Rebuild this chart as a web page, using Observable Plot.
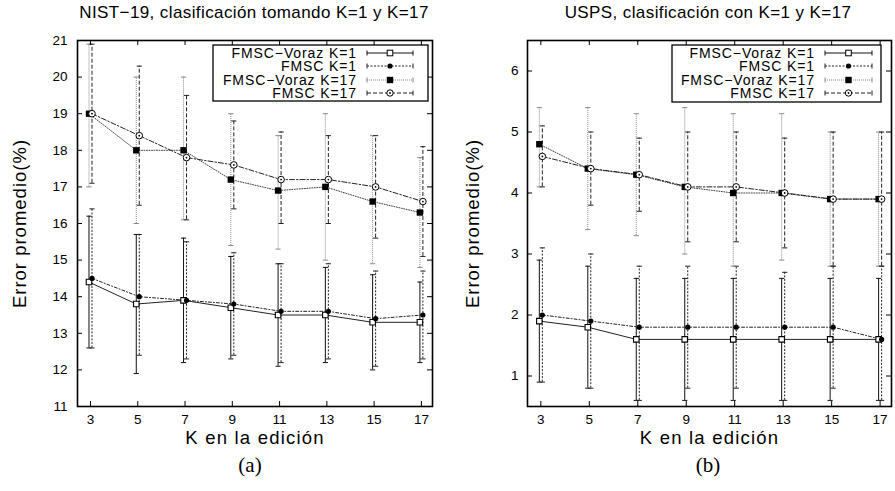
<!DOCTYPE html>
<html><head><meta charset="utf-8">
<script src="https://cdn.jsdelivr.net/npm/d3@7"></script>
<script src="https://cdn.jsdelivr.net/npm/@observablehq/plot@0.6"></script>
<style>
html,body{margin:0;padding:0;background:#fff;}
body{width:895px;height:491px;position:relative;overflow:hidden;font-family:"Liberation Sans",Arial,sans-serif;}
.panel{position:absolute;top:0;}
.title{position:absolute;top:3px;font-size:17px;letter-spacing:0.4px;white-space:nowrap;transform:translateX(-50%);color:#000;}
.cap{position:absolute;top:453px;font-family:"Liberation Serif","Times New Roman",serif;font-size:21px;transform:translateX(-50%);color:#000;}
.legend{position:absolute;top:0;left:0;}
</style></head><body>
<script>
// ---------- data ----------
const ks = [3, 5, 7, 9, 11, 13, 15, 17];
const seriesNames = ["FMSC\u2212Voraz K=1", "FMSC K=1", "FMSC\u2212Voraz K=17", "FMSC K=17"];
const xLabel = "K en la edici\u00f3n";
const yLabel = "Error promedio(%)";

// (a) NIST-19
const nistVorazK1   = [14.4, 13.8, 13.9, 13.7, 13.5, 13.5, 13.3, 13.3];
const nistVorazK1Lo = [12.6, 11.9, 12.2, 12.3, 12.1, 12.2, 12.0, 12.2];
const nistVorazK1Hi = [16.2, 15.7, 15.6, 15.1, 14.9, 14.8, 14.6, 14.4];
const nistFmscK1    = [14.5, 14.0, 13.9, 13.8, 13.6, 13.6, 13.4, 13.5];
const nistFmscK1Lo  = [12.6, 12.4, 12.3, 12.4, 12.2, 12.3, 12.1, 12.3];
const nistFmscK1Hi  = [16.4, 15.7, 15.5, 15.2, 14.9, 14.9, 14.7, 14.7];
const nistVorazK17   = [19.0, 18.0, 18.0, 17.2, 16.9, 17.0, 16.6, 16.3];
const nistVorazK17Lo = [17.0, 16.0, 16.1, 15.4, 15.3, 15.0, 14.9, 14.8];
const nistVorazK17Hi = [20.9, 20.0, 20.0, 19.0, 18.4, 19.0, 18.4, 17.8];
const nistFmscK17    = [19.0, 18.4, 17.8, 17.6, 17.2, 17.2, 17.0, 16.6];
const nistFmscK17Lo  = [17.1, 16.5, 16.1, 16.4, 16.0, 16.0, 15.6, 15.1];
const nistFmscK17Hi  = [20.9, 20.3, 19.5, 18.8, 18.5, 18.4, 18.4, 18.1];

// (b) USPS
const uspsVorazK1   = [1.9, 1.8, 1.6, 1.6, 1.6, 1.6, 1.6, 1.6];
const uspsVorazK1Lo = [0.9, 0.8, 0.6, 0.6, 0.6, 0.6, 0.6, 0.6];
const uspsVorazK1Hi = [2.9, 2.8, 2.6, 2.6, 2.6, 2.6, 2.6, 2.6];
const uspsFmscK1    = [2.0, 1.9, 1.8, 1.8, 1.8, 1.8, 1.8, 1.6];
const uspsFmscK1Lo  = [0.9, 0.8, 0.6, 0.8, 0.8, 0.6, 0.8, 0.6];
const uspsFmscK1Hi  = [3.1, 3.0, 2.8, 2.8, 2.8, 2.7, 2.8, 2.8];
const uspsVorazK17   = [4.8, 4.4, 4.3, 4.1, 4.0, 4.0, 3.9, 3.9];
const uspsVorazK17Lo = [4.1, 3.4, 3.3, 3.0, 2.8, 2.9, 2.8, 2.8];
const uspsVorazK17Hi = [5.4, 5.4, 5.3, 5.4, 5.3, 5.3, 5.0, 5.0];
const uspsFmscK17    = [4.6, 4.4, 4.3, 4.1, 4.1, 4.0, 3.9, 3.9];
const uspsFmscK17Lo  = [4.1, 3.8, 3.7, 3.2, 3.2, 3.1, 2.8, 2.8];
const uspsFmscK17Hi  = [5.1, 5.0, 4.9, 5.0, 5.0, 4.9, 5.0, 5.0];

const nistYTicks = [11, 12, 13, 14, 15, 16, 17, 18, 19, 20, 21];
const uspsYTicks = [1, 2, 3, 4, 5, 6];

// ---------- styles ----------
const styles = [
  {line: "#222", dash: null,        bar: "#111", barDash: null,      dx: -1.5, marker: "openSquare"},
  {line: "#222", dash: "3,2,1,2",   bar: "#222", barDash: "2,1.5",   dx: 1.5,  marker: "dot"},
  {line: "#444", dash: "1,1.5",     bar: "#888", barDash: "1,1",     dx: -1.5, marker: "filledSquare"},
  {line: "#222", dash: "5,2,1.5,2", bar: "#222", barDash: "4,2",     dx: 1.5,  marker: "openCircle"}
];
const capSymbol = {draw(ctx, size) { const r = Math.sqrt(size / Math.PI); ctx.moveTo(-r, 0); ctx.lineTo(r, 0); }};

function rowsOf(vals, lo, hi, s) {
  return ks.map((k, i) => ({k, v: vals[i], lo: lo[i], hi: hi[i], s}));
}

function markerMarks(rows, st) {
  const o = {x: "k", y: "v", dx: st.dx};
  switch (st.marker) {
    case "openSquare": return [Plot.dot(rows, {...o, symbol: "square", r: 3.1, fill: "white", stroke: "black", strokeWidth: 1.1})];
    case "dot": return [Plot.dot(rows, {...o, symbol: "circle", r: 2.6, fill: "black", stroke: "none"})];
    case "filledSquare": return [Plot.dot(rows, {...o, symbol: "square", r: 3.6, fill: "black", stroke: "none"})];
    case "openCircle": return [
      Plot.dot(rows, {...o, symbol: "circle", r: 3.3, fill: "white", stroke: "black", strokeWidth: 1}),
      Plot.dot(rows, {...o, symbol: "circle", r: 0.9, fill: "black", stroke: "none"})
    ];
  }
}

function panel({series, yDomain, yTicks, width, height, marginLeft, marginRight, marginTop, marginBottom, yLabelDx, yTickPad}) {
  const fw = width - marginLeft - marginRight;
  const fh = height - marginTop - marginBottom;
  const marks = [];
  series.forEach((rows, s) => {
    const st = styles[s];
    marks.push(Plot.ruleX(rows, {x: "k", y1: "lo", y2: "hi", dx: st.dx, stroke: st.bar, strokeWidth: 1, strokeDasharray: st.barDash}));
    marks.push(Plot.dot(rows, {x: "k", y: "lo", dx: st.dx, symbol: capSymbol, r: 2.6, stroke: st.bar, fill: "none", strokeWidth: 1}));
    marks.push(Plot.dot(rows, {x: "k", y: "hi", dx: st.dx, symbol: capSymbol, r: 2.6, stroke: st.bar, fill: "none", strokeWidth: 1}));
  });
  series.forEach((rows, s) => {
    const st = styles[s];
    marks.push(Plot.line(rows, {x: "k", y: "v", dx: st.dx, stroke: st.line, strokeWidth: 1, strokeDasharray: st.dash}));
  });
  series.forEach((rows, s) => marks.push(...markerMarks(rows, styles[s])));
  // inward ticks on all four sides
  marks.push(Plot.ruleX(ks, {x: d => d, insetTop: fh - 5, stroke: "black", strokeWidth: 1}));
  marks.push(Plot.ruleX(ks, {x: d => d, insetBottom: fh - 5, stroke: "black", strokeWidth: 1}));
  marks.push(Plot.ruleY(yTicks, {y: d => d, insetRight: fw - 5, stroke: "black", strokeWidth: 1}));
  marks.push(Plot.ruleY(yTicks, {y: d => d, insetLeft: fw - 5, stroke: "black", strokeWidth: 1}));
  marks.push(Plot.frame({stroke: "black", strokeWidth: 1.6}));
  // axes
  marks.push(Plot.axisX(ks, {anchor: "bottom", tickSize: 0, tickPadding: 8, fontSize: 14, label: null, tickFormat: d3.format("d")}));
  marks.push(Plot.axisY(yTicks, {anchor: "left", tickSize: 0, tickPadding: yTickPad, fontSize: 14, label: null, tickFormat: d3.format("d")}));
  marks.push(Plot.text([xLabel], {frameAnchor: "bottom", lineAnchor: "middle", textAnchor: "middle", dy: 32, fontSize: 18, fill: "black"}));
  marks.push(Plot.text([yLabel], {frameAnchor: "left", lineAnchor: "middle", textAnchor: "middle", rotate: -90, dx: yLabelDx, fontSize: 18, fill: "black"}));
  const svg = Plot.plot({
    width, height, marginLeft, marginRight, marginTop, marginBottom,
    style: {fontFamily: "Liberation Sans, Arial, sans-serif", color: "black", background: "white", overflow: "visible"},
    x: {domain: [2.45, 17.47]},
    y: {domain: yDomain},
    marks
  });
  const tickLabels = new Set(ks.map(String).concat(yTicks.map(String)));
  d3.select(svg).selectAll("text").each(function() {
    const t = this.textContent;
    if (t === xLabel) { this.style.fontSize = "18.5px"; this.setAttribute("letter-spacing", "1.2px"); }
    else if (t === yLabel) { this.style.fontSize = "18.5px"; this.setAttribute("letter-spacing", "1px"); }
    else if (tickLabels.has(t)) { this.style.fontSize = "13.5px"; }
  });
  return svg;
}

function addLegend(host, box, textX, sampleX1, sampleX2, rowYs) {
  const svg = d3.select(host).append("svg").attr("class", "legend")
    .attr("width", 895).attr("height", 491).style("pointer-events", "none");
  svg.append("rect").attr("x", box[0]).attr("y", box[1]).attr("width", box[2] - box[0]).attr("height", box[3] - box[1])
    .attr("fill", "white").attr("stroke", "black").attr("stroke-width", 1.3);
  seriesNames.forEach((name, s) => {
    const st = styles[s], y = rowYs[s], mid = (sampleX1 + sampleX2) / 2;
    svg.append("text").attr("x", textX).attr("y", y).attr("dy", "0.36em").attr("text-anchor", "end")
      .attr("font-family", "Liberation Sans, Arial, sans-serif").attr("font-size", 14).attr("letter-spacing", "0.9px")
      .text(name);
    svg.append("line").attr("x1", sampleX1).attr("x2", sampleX2).attr("y1", y).attr("y2", y)
      .attr("stroke", st.bar).attr("stroke-dasharray", st.barDash).attr("stroke-width", 1);
    [sampleX1, sampleX2].forEach(x => svg.append("line").attr("x1", x).attr("x2", x).attr("y1", y - 2.5).attr("y2", y + 2.5).attr("stroke", st.bar));
    if (st.marker === "openSquare") svg.append("rect").attr("x", mid - 2.8).attr("y", y - 2.8).attr("width", 5.6).attr("height", 5.6).attr("fill", "white").attr("stroke", "black");
    if (st.marker === "dot") svg.append("circle").attr("cx", mid).attr("cy", y).attr("r", 2.6).attr("fill", "black");
    if (st.marker === "filledSquare") svg.append("rect").attr("x", mid - 3.2).attr("y", y - 3.2).attr("width", 6.4).attr("height", 6.4).attr("fill", "black");
    if (st.marker === "openCircle") {
      svg.append("circle").attr("cx", mid).attr("cy", y).attr("r", 3.2).attr("fill", "white").attr("stroke", "black");
      svg.append("circle").attr("cx", mid).attr("cy", y).attr("r", 0.9).attr("fill", "black");
    }
  });
}

// ---------- build ----------
const nistSeries = [
  rowsOf(nistVorazK1, nistVorazK1Lo, nistVorazK1Hi, 0),
  rowsOf(nistFmscK1, nistFmscK1Lo, nistFmscK1Hi, 1),
  rowsOf(nistVorazK17, nistVorazK17Lo, nistVorazK17Hi, 2),
  rowsOf(nistFmscK17, nistFmscK17Lo, nistFmscK17Hi, 3)
];
const uspsSeries = [
  rowsOf(uspsVorazK1, uspsVorazK1Lo, uspsVorazK1Hi, 0),
  rowsOf(uspsFmscK1, uspsFmscK1Lo, uspsFmscK1Hi, 1),
  rowsOf(uspsVorazK17, uspsVorazK17Lo, uspsVorazK17Hi, 2),
  rowsOf(uspsFmscK17, uspsFmscK17Lo, uspsFmscK17Hi, 3)
];

const left = document.createElement("div"); left.className = "panel"; left.style.left = "0px";
left.appendChild(panel({series: nistSeries, yDomain: [11, 21], yTicks: nistYTicks, width: 447, height: 491,
  marginLeft: 77, marginRight: 15, marginTop: 40, marginBottom: 85, yLabelDx: -57, yTickPad: 10}));
document.body.appendChild(left);

const right = document.createElement("div"); right.className = "panel"; right.style.left = "447px";
right.appendChild(panel({series: uspsSeries, yDomain: [0.5, 6.5], yTicks: uspsYTicks, width: 448, height: 491,
  marginLeft: 80, marginRight: 4, marginTop: 40, marginBottom: 85, yLabelDx: -54, yTickPad: 9}));
document.body.appendChild(right);

addLegend(document.body, [213, 45, 428, 101], 357, 367, 413, [53, 66, 80, 93]);
addLegend(document.body, [672, 45, 881, 102], 815, 825, 872, [53, 66, 80, 93]);

function addText(cls, text, x) {
  const d = document.createElement("div"); d.className = cls; d.textContent = text; d.style.left = x + "px";
  document.body.appendChild(d);
}
addText("title", "NIST\u221219, clasificaci\u00f3n tomando K=1 y K=17", 254);
addText("title", "USPS, clasificaci\u00f3n con K=1 y K=17", 708);
addText("cap", "(a)", 250);
addText("cap", "(b)", 708);
</script>
</body></html>
